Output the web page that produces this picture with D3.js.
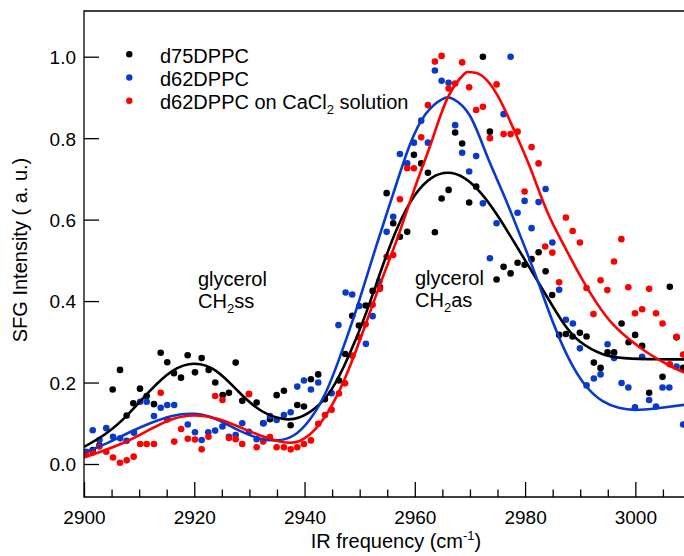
<!DOCTYPE html>
<html>
<head>
<meta charset="utf-8">
<script src="https://cdn.jsdelivr.net/npm/d3@7"></script>
<style>
  body { margin: 0; background: #fff; }
  svg { display: block; }
  text { font-family: Arial, "Liberation Sans", sans-serif; fill: #000; }
</style>
</head>
<body>
<div id="chart"></div>
<script>
// tick values
const freqTicks = [2900, 2920, 2940, 2960, 2980, 3000];
const freqMinorTicks = [2905, 2910, 2915, 2925, 2930, 2935, 2945, 2950, 2955, 2965, 2970, 2975, 2985, 2990, 2995, 3005];
const intensityTicks = [0, 0.2, 0.4, 0.6, 0.8, 1.0];

// measured points [frequency, intensity]
const d75DPPC = [
  [2901.58,0.034],[2902.77,0.045],[2905.20,0.183],[2906.53,0.231],[2907.74,0.119],[2908.94,0.149],
  [2910.15,0.185],[2911.37,0.167],[2912.69,0.147],[2913.91,0.273],[2915.10,0.250],[2916.32,0.223],
  [2917.59,0.212],[2918.80,0.267],[2920.13,0.225],[2921.34,0.260],[2922.61,0.231],[2923.81,0.200],
  [2925.15,0.169],[2926.29,0.175],[2927.51,0.249],[2928.70,0.155],[2929.92,0.172],[2931.31,0.151],
  [2932.51,0.100],[2933.73,0.110],[2934.94,0.169],[2936.26,0.180],[2937.48,0.095],[2938.68,0.145],
  [2939.89,0.141],[2941.16,0.208],[2942.48,0.220],[2943.70,0.159],[2946.24,0.205],[2947.38,0.270],
  [2948.65,0.364],[2949.86,0.340],[2951.08,0.389],[2952.35,0.425],[2953.67,0.434],[2954.89,0.665],
  [2956.08,0.591],[2957.30,0.558],[2958.62,0.570],[2959.84,0.759],[2961.16,0.738],[2962.38,0.715],
  [2963.64,0.569],[2964.86,0.652],[2966.13,0.673],[2967.32,0.814],[2968.59,0.787],[2969.86,0.642],
  [2971.13,0.681],[2972.35,1.000],[2973.62,0.816],[2974.83,0.453],[2976.10,0.484],[2977.37,0.468],
  [2978.64,0.494],[2979.91,0.489],[2981.18,0.503],[2982.45,0.520],[2983.72,0.473],[2984.91,0.415],
  [2986.18,0.317],[2987.40,0.319],[2988.61,0.313],[2989.94,0.322],[2991.15,0.313],[2992.47,0.249],
  [2993.69,0.236],[2994.96,0.274],[2996.15,0.274],[2997.50,0.345],[2998.77,0.299],[2999.96,0.317],
  [3001.23,0.290],[3002.50,0.175],[3004.93,0.214],[3006.25,0.435],[3007.47,0.311],[3008.67,0.236]
];

const d62DPPC = [
  [2900.36,0.030],[2901.58,0.083],[2902.81,0.059],[2904.04,0.088],[2905.26,0.067],[2906.56,0.063],
  [2907.74,0.057],[2909.07,0.077],[2910.19,0.153],[2911.37,0.153],[2912.69,0.118],[2913.91,0.138],
  [2915.10,0.145],[2916.36,0.145],[2918.82,0.097],[2920.13,0.078],[2921.34,0.059],[2922.54,0.078],
  [2923.79,0.082],[2925.11,0.092],[2926.29,0.067],[2927.51,0.071],[2928.70,0.100],[2929.92,0.079],
  [2931.31,0.061],[2932.58,0.100],[2933.73,0.118],[2934.94,0.108],[2936.26,0.120],[2937.48,0.127],
  [2938.68,0.190],[2939.89,0.205],[2941.16,0.183],[2942.48,0.200],[2944.91,0.174],[2946.15,0.341],
  [2947.45,0.421],[2948.65,0.416],[2949.92,0.388],[2951.13,0.295],[2952.35,0.363],[2953.55,0.448],
  [2954.89,0.570],[2956.08,0.607],[2957.30,0.761],[2958.62,0.738],[2959.84,0.789],[2961.16,0.843],
  [2962.38,0.789],[2963.64,0.966],[2964.86,0.941],[2966.13,0.936],[2967.32,0.832],[2968.59,0.764],
  [2969.86,0.718],[2971.13,0.756],[2972.35,0.640],[2973.62,0.505],[2974.83,0.591],[2976.10,0.859],
  [2977.37,1.000],[2978.64,0.617],[2979.91,0.646],[2981.18,0.579],[2982.45,0.643],[2983.72,0.675],
  [2984.95,0.544],[2986.18,0.428],[2987.40,0.354],[2988.67,0.345],[2989.94,0.284],[2991.15,0.193],
  [2992.47,0.210],[2993.69,0.220],[2994.96,0.294],[2996.15,0.260],[2997.50,0.199],[2998.73,0.188],
  [2999.94,0.139],[3001.23,0.263],[3002.50,0.157],[3003.75,0.141],[3004.93,0.188],[3006.16,0.188],
  [3007.47,0.239],[3008.67,0.097]
];

const d62DPPCCaCl2 = [
  [2900.36,0.027],[2901.58,0.028],[2902.77,0.043],[2904.04,0.030],[2905.26,0.016],[2906.53,0.003],
  [2907.74,0.009],[2909.01,0.018],[2910.19,0.049],[2911.37,0.049],[2912.69,0.049],[2913.91,0.175],
  [2915.10,0.109],[2916.36,0.055],[2917.62,0.086],[2918.82,0.062],[2920.13,0.060],[2921.34,0.036],
  [2922.58,0.067],[2923.79,0.167],[2925.11,0.157],[2926.29,0.064],[2927.51,0.061],[2928.70,0.049],
  [2929.92,0.172],[2931.31,0.041],[2932.51,0.055],[2933.73,0.066],[2934.94,0.041],[2936.26,0.041],
  [2937.48,0.036],[2938.68,0.041],[2939.89,0.049],[2941.16,0.058],[2942.48,0.099],[2943.70,0.120],
  [2944.91,0.133],[2946.24,0.173],[2947.36,0.198],[2948.68,0.266],[2949.86,0.311],[2951.08,0.343],
  [2952.35,0.391],[2953.67,0.430],[2954.89,0.509],[2956.08,0.513],[2957.30,0.650],[2958.62,0.726],
  [2959.84,0.726],[2961.16,0.802],[2962.38,0.881],[2963.64,0.988],[2964.86,1.002],[2966.13,0.922],
  [2967.32,0.934],[2968.59,0.986],[2969.86,0.925],[2971.13,0.869],[2972.35,0.877],[2973.62,0.800],
  [2974.83,0.932],[2976.10,0.810],[2977.37,0.810],[2978.64,0.816],[2979.91,0.669],[2981.18,0.778],
  [2982.45,0.738],[2983.65,0.534],[2984.95,0.519],[2986.18,0.446],[2987.40,0.605],[2988.63,0.572],
  [2989.94,0.544],[2991.15,0.432],[2992.40,0.368],[2993.69,0.451],[2994.92,0.427],[2996.13,0.497],
  [2997.46,0.552],[2998.73,0.434],[2999.94,0.370],[3001.23,0.380],[3002.50,0.430],[3003.75,0.370],
  [3004.93,0.345],[3006.25,0.245],[3007.47,0.312],[3008.67,0.269]
];

// fitted curves [frequency, intensity]
const fitD75 = [
  [2900,0.042],[2904,0.075],[2908,0.122],[2912,0.180],[2916,0.228],[2920,0.246],[2924,0.228],
  [2928,0.178],[2932,0.132],[2936,0.111],[2939,0.114],[2942,0.138],[2945,0.185],[2948,0.265],
  [2951,0.365],[2954,0.480],[2957,0.585],[2960,0.660],[2963,0.702],[2966,0.715],[2969,0.702],
  [2972,0.665],[2975,0.610],[2978,0.545],[2981,0.478],[2984,0.410],[2987,0.345],[2990,0.300],
  [2994,0.270],[2998,0.260],[3004,0.257],[3010,0.257]
];

const fitD62 = [
  [2900,0.028],[2904,0.050],[2908,0.076],[2912,0.100],[2916,0.118],[2920,0.123],[2924,0.110],
  [2928,0.083],[2932,0.062],[2935,0.058],[2938,0.070],[2941,0.110],[2944,0.180],[2947,0.285],
  [2950,0.405],[2953,0.535],[2956,0.660],[2959,0.780],[2962,0.860],[2965,0.896],[2967,0.896],
  [2970,0.855],[2973,0.760],[2976,0.665],[2979,0.565],[2982,0.460],[2985,0.350],[2988,0.257],
  [2991,0.192],[2994,0.155],[2997,0.138],[3000,0.133],[3004,0.137],[3010,0.147]
];

const fitD62CaCl2 = [
  [2900,0.016],[2904,0.035],[2908,0.057],[2912,0.085],[2916,0.110],[2920,0.119],[2924,0.112],
  [2928,0.092],[2932,0.070],[2936,0.054],[2939,0.056],[2942,0.086],[2945,0.145],[2948,0.232],
  [2951,0.340],[2954,0.452],[2957,0.560],[2960,0.678],[2963,0.790],[2966,0.900],[2969,0.958],
  [2970,0.962],[2972,0.955],[2975,0.905],[2978,0.820],[2981,0.725],[2984,0.620],[2987,0.538],
  [2990,0.462],[2993,0.395],[2996,0.342],[2999,0.305],[3002,0.275],[3006,0.243],[3010,0.218]
];

const seriesNames = ['d75DPPC', 'd62DPPC', 'd62DPPC on CaCl'];
const seriesColors = ['#000000', '#0a3acc', '#ff0000'];

// layout
const width = 684;
const height = 556;
const plotLeft = 84, plotTop = 11, plotBottom = 497;

const svg = d3.select('#chart')
  .append('svg')
  .attr('width', width)
  .attr('height', height);

const x = d3.scaleLinear()
  .domain([2900, 3010])
  .range([plotLeft, plotLeft + 110 * 5.5135]);

const y = d3.scaleLinear()
  .domain([0, 1])
  .range([464, 56.7]);

svg.append('clipPath')
  .attr('id', 'plot-clip')
  .append('rect')
  .attr('x', plotLeft)
  .attr('y', plotTop)
  .attr('width', width - plotLeft)
  .attr('height', plotBottom - plotTop);

const plot = svg.append('g').attr('clip-path', 'url(#plot-clip)');

// scatter points (black, then blue, then red on top)
const pointSets = [d75DPPC, d62DPPC, d62DPPCCaCl2];
pointSets.forEach((pts, i) => {
  plot.append('g')
    .selectAll('circle')
    .data(pts)
    .enter()
    .append('circle')
    .attr('cx', d => x(d[0]))
    .attr('cy', d => y(d[1]))
    .attr('r', 3.3)
    .attr('fill', seriesColors[i]);
});

// fit lines
const line = d3.line()
  .x(d => x(d[0]))
  .y(d => y(d[1]))
  .curve(d3.curveNatural);

[fitD75, fitD62, fitD62CaCl2].forEach((fit, i) => {
  plot.append('path')
    .datum(fit)
    .attr('d', line)
    .attr('fill', 'none')
    .attr('stroke', seriesColors[i])
    .attr('stroke-width', 2.6);
});

// axes
const xAxis = svg.append('g')
  .attr('transform', `translate(0,${plotBottom})`)
  .call(d3.axisBottom(x).tickValues(freqTicks).tickSize(-15).tickSizeOuter(0)
    .tickFormat(d3.format('d')));
xAxis.select('.domain').remove();
xAxis.selectAll('line').attr('stroke', '#000').attr('stroke-width', 1.3);
xAxis.selectAll('text')
  .attr('y', 27)
  .attr('dy', 0)
  .style('font-size', '19px');

const xMinor = svg.append('g')
  .attr('transform', `translate(0,${plotBottom})`)
  .call(d3.axisBottom(x).tickValues(freqMinorTicks).tickSize(-7.5).tickFormat(''));
xMinor.select('.domain').remove();
xMinor.selectAll('line').attr('stroke', '#000').attr('stroke-width', 1.3);

const yAxis = svg.append('g')
  .attr('transform', `translate(${plotLeft},0)`)
  .call(d3.axisLeft(y).tickValues(intensityTicks).tickSize(-15).tickPadding(8)
    .tickFormat(d3.format('.1f')));
yAxis.select('.domain').remove();
yAxis.selectAll('line').attr('stroke', '#000').attr('stroke-width', 1.3);
yAxis.selectAll('text')
  .attr('dy', '0.36em')
  .style('font-size', '19px');

// frame lines: top, left, bottom
svg.append('path')
  .attr('d', `M${width},${plotTop}H${plotLeft}V${plotBottom}H${width}`)
  .attr('fill', 'none')
  .attr('stroke', '#000')
  .attr('stroke-width', 1.3);

// axis titles
const xTitle = svg.append('text')
  .attr('x', 396)
  .attr('y', 548)
  .attr('text-anchor', 'middle')
  .style('font-size', '20px');
xTitle.append('tspan').text('IR frequency (cm');
xTitle.append('tspan').attr('dy', -8).style('font-size', '13px').text('-1');
xTitle.append('tspan').attr('dy', 8).text(')');

svg.append('text')
  .attr('transform', 'translate(26.7,250) rotate(-90)')
  .attr('text-anchor', 'middle')
  .style('font-size', '20px')
  .text('SFG Intensity ( a. u.)');

// legend
const legend = svg.append('g');
seriesNames.forEach((name, i) => {
  const ly = 54.3 + i * 23.2;
  legend.append('circle')
    .attr('cx', 129.3)
    .attr('cy', ly)
    .attr('r', 3.2)
    .attr('fill', seriesColors[i]);
  const t = legend.append('text')
    .attr('x', 160)
    .attr('y', ly + 8.7)
    .style('font-size', '20px')
    .text(name);
  if (i === 2) {
    t.append('tspan').attr('dy', 5).style('font-size', '13px').text('2');
    t.append('tspan').attr('dy', -5).text(' solution');
  }
});

// peak annotations
function annotate(x0, y0, mode) {
  const g = svg.append('g');
  g.append('text').attr('x', x0).attr('y', y0).style('font-size', '20px').text('glycerol');
  const t = g.append('text').attr('x', x0).attr('y', y0 + 22).style('font-size', '20px');
  t.append('tspan').text('CH');
  t.append('tspan').attr('dy', 5).style('font-size', '13px').text('2');
  t.append('tspan').attr('dy', -5).text(mode);
}
annotate(198, 286, 'ss');
annotate(415, 285, 'as');
</script>
</body>
</html>
